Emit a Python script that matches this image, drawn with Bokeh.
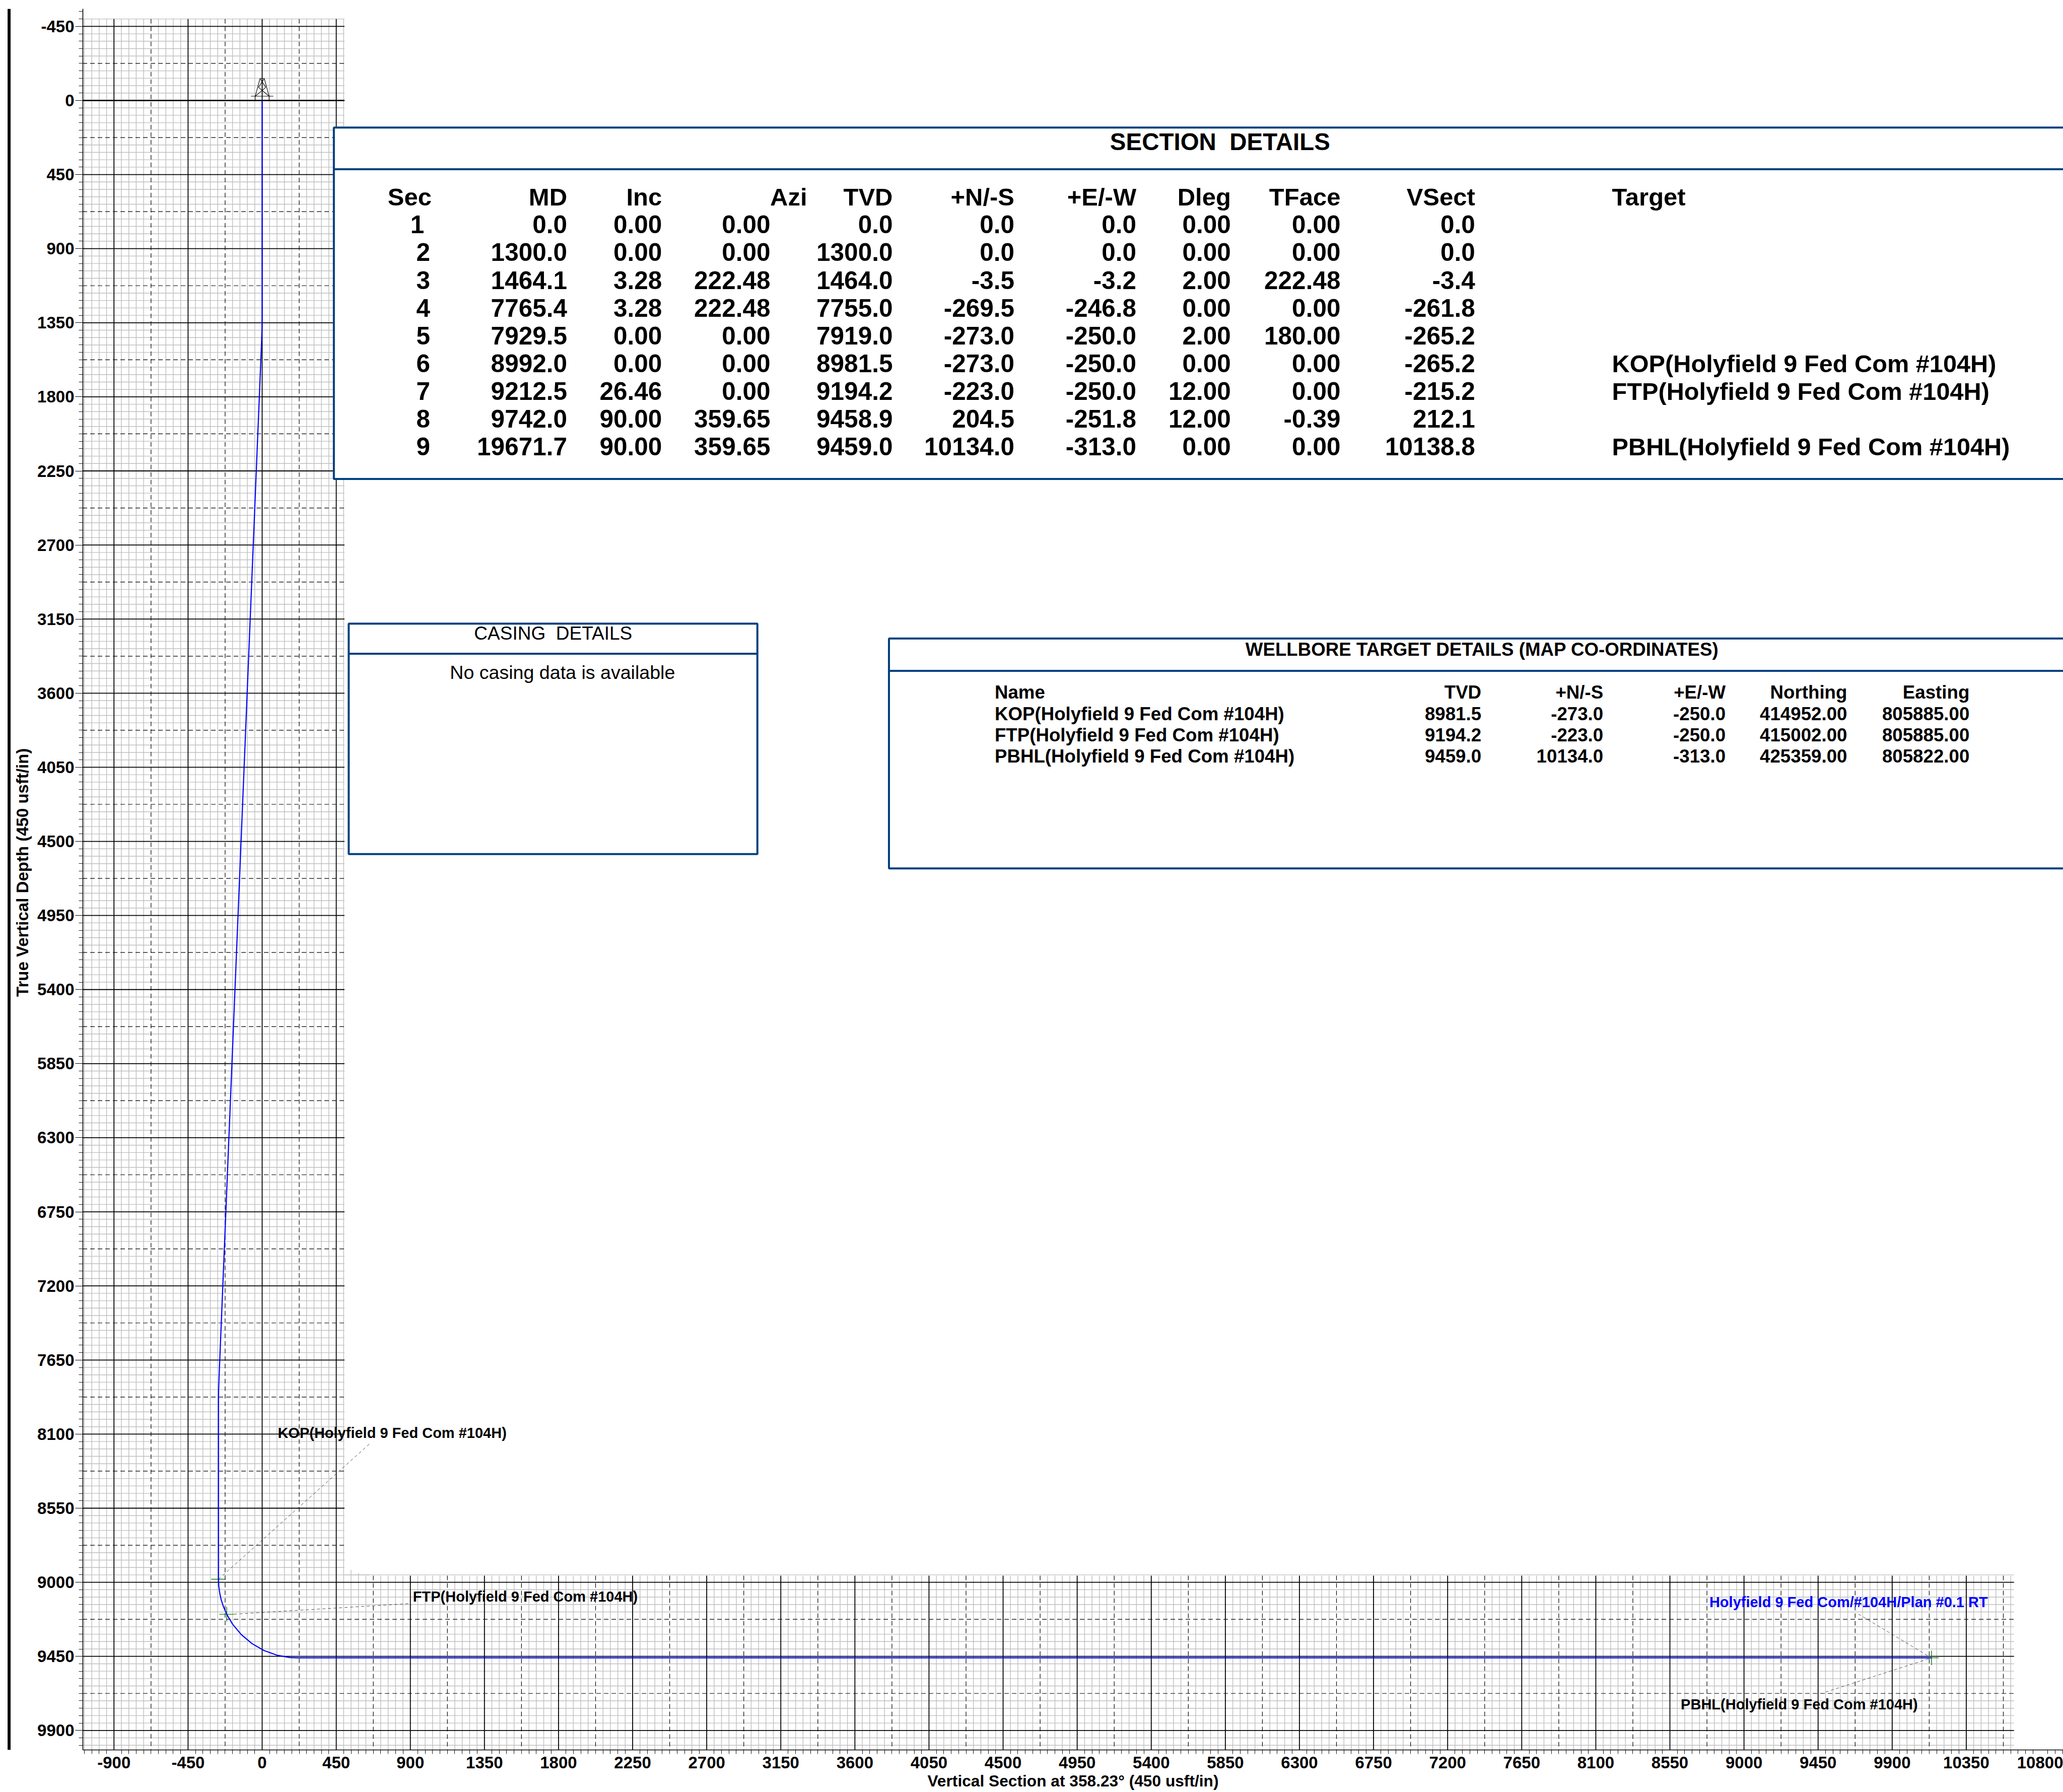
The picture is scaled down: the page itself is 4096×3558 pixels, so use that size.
from bokeh.plotting import figure
from bokeh.embed import file_html
from bokeh.resources import INLINE
from bokeh.core.properties import value
from bokeh.layouts import row
from bokeh.models import Range1d, LinearAxis, FixedTicker, PrintfTickFormatter

# ---------- chart data ----------
x_major = list(range(-900, 10801, 450))
y_major = list(range(-450, 9901, 450))

# wellbore path: vertical section / true vertical depth
path_vs = [0.0, 0.0, -0.9, -3.4, -261.8, -264.6, -265.2, -265.2, -263.4, -257.9, -249.0, -236.4, -215.2,
           -178.9, -125.3, -61.6, 10.5, 88.7, 170.7, 212.1, 10138.8]
path_tvd = [0.0, 1300.0, 1382.0, 1464.0, 7755.0, 7837.0, 7919.0, 8981.5, 9023.1, 9064.4, 9105.1, 9144.8, 9194.2,
            9255.4, 9319.1, 9372.6, 9414.3, 9442.7, 9457.2, 9458.9, 9459.0]

target_vs = [-265.2, -215.2, 10138.8]
target_tvd = [8981.5, 9194.2, 9459.0]

sec_headers = ["Sec", "MD", "Inc", "Azi", "TVD", "+N/-S", "+E/-W", "Dleg", "TFace", "VSect"]
sec_no = ["1", "2", "3", "4", "5", "6", "7", "8", "9"]
sec_md = ["0.0", "1300.0", "1464.1", "7765.4", "7929.5", "8992.0", "9212.5", "9742.0", "19671.7"]
sec_inc = ["0.00", "0.00", "3.28", "3.28", "0.00", "0.00", "26.46", "90.00", "90.00"]
sec_azi = ["0.00", "0.00", "222.48", "222.48", "0.00", "0.00", "0.00", "359.65", "359.65"]
sec_tvd = ["0.0", "1300.0", "1464.0", "7755.0", "7919.0", "8981.5", "9194.2", "9458.9", "9459.0"]
sec_ns = ["0.0", "0.0", "-3.5", "-269.5", "-273.0", "-273.0", "-223.0", "204.5", "10134.0"]
sec_ew = ["0.0", "0.0", "-3.2", "-246.8", "-250.0", "-250.0", "-250.0", "-251.8", "-313.0"]
sec_dleg = ["0.00", "0.00", "2.00", "0.00", "2.00", "0.00", "12.00", "12.00", "0.00"]
sec_tface = ["0.00", "0.00", "222.48", "0.00", "180.00", "0.00", "0.00", "-0.39", "0.00"]
sec_vsect = ["0.0", "0.0", "-3.4", "-261.8", "-265.2", "-265.2", "-215.2", "212.1", "10138.8"]
sec_target = ["", "", "", "", "", "KOP(Holyfield 9 Fed Com #104H)", "FTP(Holyfield 9 Fed Com #104H)", "",
              "PBHL(Holyfield 9 Fed Com #104H)"]

tgt_headers = ["TVD", "+N/-S", "+E/-W", "Northing", "Easting"]
tgt_name = ["KOP(Holyfield 9 Fed Com #104H)", "FTP(Holyfield 9 Fed Com #104H)", "PBHL(Holyfield 9 Fed Com #104H)"]
tgt_tvd = ["8981.5", "9194.2", "9459.0"]
tgt_ns = ["-273.0", "-223.0", "10134.0"]
tgt_ew = ["-250.0", "-250.0", "-313.0"]
tgt_north = ["414952.00", "415002.00", "425359.00"]
tgt_east = ["805885.00", "805885.00", "805822.00"]

# ---------- layout: reference pixel <-> data ----------
S = 4096 / 5346
BAR_W = 21                       # width of the strip that holds the page-edge rule
W, H = 4096 - BAR_W, 3558
PX_PER_UNIT = 192 / 450          # reference pixels per data unit
REF_X0, REF_Y0 = 678.7, 259.7    # reference pixel of data (0, 0)


def dx(px):
    return (px - REF_X0) / PX_PER_UNIT


def dy(py):
    return (py - REF_Y0) / PX_PER_UNIT


L, T, B = 164 - BAR_W, 17, 3474
x_range = Range1d(dx((L + BAR_W) / S), dx((W + BAR_W) / S))
y_range = Range1d(dy(B / S), dy(T / S))

p = figure(width=W, height=H, x_range=x_range, y_range=y_range, output_backend="svg", toolbar_location=None,
           x_axis_location=None, y_axis_location=None, min_border_left=L, min_border_right=0,
           min_border_top=T, min_border_bottom=H - B, background_fill_color="white",
           border_fill_color="white", outline_line_color=None)
p.grid.visible = False

FONT = value("Liberation Sans")
GREY = "#bfbfbf"
NAVY = "#004080"


def axis_common(ax, label, label_size):
    ax.axis_label = label
    ax.axis_label_text_font = "Liberation Sans"
    ax.axis_label_text_font_style = "bold"
    ax.axis_label_text_font_size = f"{label_size}px"
    ax.axis_label_text_color = "black"
    ax.major_label_text_font = "Liberation Sans"
    ax.major_label_text_font_style = "bold"
    ax.major_label_text_font_size = "33px"
    ax.major_label_text_color = "black"
    ax.axis_line_color = "black"
    ax.axis_line_width = 1.6
    ax.major_tick_line_color = "black"
    ax.major_tick_line_width = 1.2
    ax.minor_tick_line_color = "black"
    ax.minor_tick_line_width = 0.9
    ax.major_tick_in = 0
    ax.minor_tick_in = 0
    ax.minor_tick_out = 8
    ax.formatter = PrintfTickFormatter(format="%d")


x_minor = [v for v in range(-1080, 10936, 45) if v % 450 != 0]
y_minor = [v for v in range(-540, 10000, 45) if v % 450 != 0]

yaxis = LinearAxis(ticker=FixedTicker(ticks=y_major, minor_ticks=y_minor))
# leading no-break spaces nudge the centred title up to where the reference has it
axis_common(yaxis, "\u00a0\u00a0\u00a0True Vertical Depth (450 usft/in)", 33)
yaxis.major_tick_out = 15
yaxis.major_label_standoff = 2
yaxis.axis_label_standoff = 8
p.add_layout(yaxis, "left")

xaxis = LinearAxis(ticker=FixedTicker(ticks=x_major, minor_ticks=x_minor))
axis_common(xaxis, "Vertical Section at 358.23\u00b0 (450 usft/in)", 31.7)
xaxis.major_tick_out = 0
xaxis.major_label_standoff = 5
xaxis.axis_label_standoff = 4
p.add_layout(xaxis, "below")

# ---------- grid (L shaped, so drawn as segments) ----------
XL_END = 500      # right end of the upper-left grid
XR_END = 10640    # right end of the lower grid
YL_TOP = -495
YB_TOP = 8960     # top of the lower grid
X_AX = dx(213.5)
Y_AX = dy(4534)


def v_top(x):
    return YL_TOP if x <= XL_END else YB_TOP


def h_end(y):
    return XL_END if y < 8950 else XR_END


all_x = list(range(-1080, 10621, 45))
all_y = list(range(-495, 9991, 45))

gx = [v for v in all_x if v % 225 != 0]
gy = [v for v in all_y if v % 225 != 0]
p.segment(gx, [v_top(v) for v in gx], gx, [Y_AX] * len(gx), line_color=GREY, line_width=1.4)
p.segment([X_AX] * len(gy), gy, [h_end(v) for v in gy], gy, line_color=GREY, line_width=1.4)
# small unfinished stubs above the lower grid
p.segment([540, 585], [8925, 8943], [540, 585], [YB_TOP, YB_TOP], line_color=GREY, line_width=1.4)
p.segment([XL_END], [8955], [654], [8955], line_color=GREY, line_width=1.4)

dash_x = [v for v in all_x if v % 450 == 225]
dash_y = [v for v in all_y if v % 450 == 225]
p.segment(dash_x, [v_top(v) for v in dash_x], dash_x, [Y_AX] * len(dash_x), line_color="black", line_width=1.2,
          line_dash="9 6")
p.segment([X_AX] * len(dash_y), dash_y, [h_end(v) for v in dash_y], dash_y, line_color="black", line_width=1.2,
          line_dash="9 6")

maj_x = [v for v in x_major if v <= 10350]
p.segment(maj_x, [v_top(v) for v in maj_x], maj_x, [Y_AX] * len(maj_x), line_color="black", line_width=1.8)
p.segment([X_AX] * len(y_major), y_major, [h_end(v) for v in y_major], y_major, line_color="black", line_width=1.8)
p.segment([X_AX], [0], [XL_END], [0], line_color="black", line_width=2.4)

# ---------- rig symbol at the surface location ----------
derrick_x = [[-13, 13], [-13, -42, -42], [13, 42, 42], [-68, 68], [-13, 22, -42], [13, -22, 42]]
derrick_y = [[-133, -133], [-133, -26, 0], [-133, -26, 0], [-26, -26], [-133, -80, -26], [-133, -80, -26]]
p.multi_line(derrick_x, derrick_y, line_color="black", line_width=1.1)

# ---------- leaders ----------
leader_xs = [[dx(565.7), dx(957)], [dx(605.7), dx(1060)], [dx(4997), dx(4730.6)], [dx(4994), dx(4813)]]
leader_ys = [[dy(4091.7), dy(3741)], [dy(4182.3), dy(4155)], [dy(4298), dy(4384)], [dy(4289.5), dy(4180.7)]]
p.multi_line(leader_xs, leader_ys, line_color="#222222", line_width=0.8, line_dash="6 5")

# ---------- targets and path ----------
p.scatter(target_vs, target_tvd, marker="cross", size=29, line_color="#008000", line_width=1.4, fill_color=None)
p.line(path_vs, path_tvd, line_color="#0000ff", line_width=2.2)


def put(xs, ys, texts, size, align="left", bold=True, color="black"):
    # the rendered baseline sits about a third of an em below the requested one: lift it back
    lift = 0.34 * size / (S * PX_PER_UNIT)
    p.text(x=xs, y=[v - lift for v in ys], text=texts, text_font=FONT, text_font_size=value(f"{size}px"),
           text_font_style="bold" if bold else "normal", text_color=color, text_align=align,
           text_baseline="alphabetic")


# ---------- annotation labels ----------
put([dx(719)], [dy(3725)], ["KOP(Holyfield 9 Fed Com #104H)"], 29)
put([dx(1069.4)], [dy(4150)], ["FTP(Holyfield 9 Fed Com #104H)"], 29)
put([dx(4969)], [dy(4429)], ["PBHL(Holyfield 9 Fed Com #104H)"], 29, align="right")
put([dx(4429)], [dy(4164)], ["Holyfield 9 Fed Com/#104H/Plan #0.1 RT"], 29, color="#0000ff")


def box(left, top, divider, bottom, right):
    p.quad(left=[dx(left)], right=[dx(right)], top=[dy(top)], bottom=[dy(bottom)], fill_color="white",
           line_color=NAVY, line_width=4)
    p.segment([dx(left)], [dy(divider)], [dx(right)], [dy(divider)], line_color=NAVY, line_width=4)


# ---------- SECTION DETAILS ----------
box(864.5, 330, 438, 1240.7, 5400)
put([dx(3161)], [dy(388)], ["SECTION\u00a0\u00a0DETAILS"], 47.5, align="center")
HDR_Y = 531.5
ROW0, ROW_STEP = 603, 72
head_right = [1117.8, 1469, 1714.7, 2091, 2312.7, 2628, 2944, 3189, 3473, 3822]
put([dx(v) for v in head_right], [dy(HDR_Y)] * len(head_right), sec_headers, 49, align="right")
put([dx(4176.6)], [dy(HDR_Y)], ["Target"], 49)
rows_y = [dy(ROW0 + i * ROW_STEP) for i in range(9)]
sec_col_right = [1098.7] + [1114] * 8
put([dx(v) for v in sec_col_right], rows_y, sec_no, 49.5, align="right")
for right, col in zip([1469, 1714.7, 1995.6, 2312.7, 2628, 2944, 3189, 3473, 3822],
                      [sec_md, sec_inc, sec_azi, sec_tvd, sec_ns, sec_ew, sec_dleg, sec_tface, sec_vsect]):
    put([dx(right)] * 9, rows_y, col, 49.5, align="right")
put([dx(4176.6)] * 9, rows_y, sec_target, 48.7)

# ---------- CASING DETAILS ----------
box(903, 1615.4, 1693.5, 2212.7, 1962)
put([dx(1432.8)], [dy(1657)], ["CASING\u00a0\u00a0DETAILS"], 37, align="center", bold=False)
put([dx(1457)], [dy(1758.7)], ["No casing data is available"], 37.6, align="center", bold=False)

# ---------- WELLBORE TARGET DETAILS ----------
box(2303, 1654, 1737.8, 2249.8, 5400)
put([dx(3840)], [dy(1698.4)], ["WELLBORE TARGET DETAILS (MAP CO-ORDINATES)"], 36.7, align="center")
TH_Y = 1810
t_rows = [dy(1865.5), dy(1920.2), dy(1975)]
put([dx(2577)], [dy(TH_Y)], ["Name"], 36.7)
put([dx(2577)] * 3, t_rows, tgt_name, 36.7)
t_right = [3838, 4154, 4471, 4786, 5103]
put([dx(v) for v in t_right], [dy(TH_Y)] * 5, tgt_headers, 36.7, align="right")
for right, col in zip(t_right, [tgt_tvd, tgt_ns, tgt_ew, tgt_north, tgt_east]):
    put([dx(right)] * 3, t_rows, col, 36.7, align="right")

# ---------- black rule along the left page edge ----------
bar = figure(width=BAR_W, height=H, x_range=Range1d(0, BAR_W), y_range=Range1d(0, 1), output_backend="svg",
             toolbar_location=None, x_axis_location=None, y_axis_location=None, min_border=0,
             outline_line_color=None, background_fill_color="white", border_fill_color="white")
bar.grid.visible = False
bar.quad(left=[14.6], right=[20.7], bottom=[0], top=[1], fill_color="black", line_color=None)

open("out.html", "w").write(file_html(row(bar, p, spacing=0), INLINE))
